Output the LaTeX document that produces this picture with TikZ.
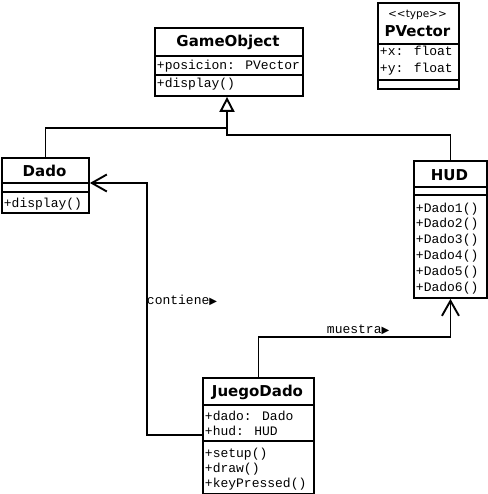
\documentclass[tikz,border=0pt]{standalone}
\usepackage{fontspec}
\usetikzlibrary{arrows.meta}
\newfontfamily\monof{Liberation Mono}
\newfontfamily\titlef{DejaVu Sans}
\newfontfamily\symf{DejaVu Sans}
\begin{document}
\begin{tikzpicture}[x=1pt,y=-1pt,line width=1.9pt,
  box/.style={draw,rectangle,inner sep=0pt,anchor=north west},
  ttl/.style={font=\titlef\bfseries\fontsize{15}{17}\selectfont,inner sep=0pt,anchor=base},
  stereo/.style={font=\titlef\fontsize{10.5}{12}\selectfont,inner sep=0pt,anchor=base},
  mem/.style={font=\monof\fontsize{13}{15}\selectfont,inner sep=0pt,anchor=base west},
  gen/.style={-{Triangle[open,length=15pt,width=15pt]}},
  assoc/.style={-{Straight Barb[length=15pt,width=17pt]}}]
\useasboundingbox (0,0) rectangle (487,494);
% GameObject
\node[box,minimum width=148pt,minimum height=68pt] (go) at (154,27) {};
\draw (154,56) -- (302,56);
\draw (154,75) -- (302,75);
\node[ttl] (goT) at (228,47) {GameObject};
\node[mem] (goA) at (156,70) {+posicion: PVector};
\node[mem] (goM) at (156,88) {+display()};
% PVector
\node[box,minimum width=81pt,minimum height=86pt] (pv) at (377,2) {};
\draw (377,44) -- (458,44);
\draw (377,80) -- (458,80);
\node[stereo] (pvS) at (417.5,18) {<<type>>};
\node[ttl] (pvT) at (417.5,37) {PVector};
\node[mem] (pvA) at (379,56) {+x: float};
\node[mem] (pvB) at (379,72.5) {+y: float};
% Dado
\node[box,minimum width=87pt,minimum height=55pt] (dado) at (1,157) {};
\draw (1,183) -- (88,183);
\draw (1,192) -- (88,192);
\node[ttl] (dadoT) at (44.5,176) {Dado};
\node[mem] (dadoM) at (3,207) {+display()};
% HUD
\node[box,minimum width=73pt,minimum height=137pt] (hud) at (413,160) {};
\draw (413,187) -- (486,187);
\draw (413,195) -- (486,195);
\node[ttl] (hudT) at (449.5,180) {HUD};
\node[mem] (hud1) at (415,212) {+Dado1()};
\node[mem] (hud2) at (415,227.8) {+Dado2()};
\node[mem] (hud3) at (415,243.6) {+Dado3()};
\node[mem] (hud4) at (415,259.4) {+Dado4()};
\node[mem] (hud5) at (415,275.2) {+Dado5()};
\node[mem] (hud6) at (415,291) {+Dado6()};
% JuegoDado
\node[box,minimum width=111pt,minimum height=116pt] (jd) at (202,377) {};
\draw (202,405) -- (313,405);
\draw (202,441) -- (313,441);
\node[ttl] (jdT) at (257.5,396) {JuegoDado};
\node[mem] (jdA) at (204,420) {+dado: Dado};
\node[mem] (jdB) at (204,435.5) {+hud: HUD};
\node[mem] (jdM1) at (204,457) {+setup()};
\node[mem] (jdM2) at (204,472) {+draw()};
\node[mem] (jdM3) at (204,487) {+keyPressed()};
% generalisation
\coordinate (g1) at (227,135);
\coordinate (g2) at (227,128);
\draw[gen] (hud.north) |- (g1) -- (go.south -| g1);
\draw (dado.north) |- (g2);
% contiene
\coordinate (c1) at (147,435);
\coordinate (c2) at (147,183);
\draw[assoc] (jd.west |- c1) -- (c1) -- (c2) -- (dado.east |- c2);
\node[mem] (lc) at (146,304) {contiene{\symf\fontsize{10}{10}\selectfont ▶}};
% muestra
\coordinate (m1) at (258,337);
\draw[assoc] (jd.north) -- (jd.north |- m1) -- (hud.south |- m1) -- (hud.south);
\node[mem] (lm) at (326,333) {muestra{\symf\fontsize{10}{10}\selectfont ▶}};
\end{tikzpicture}
\end{document}
